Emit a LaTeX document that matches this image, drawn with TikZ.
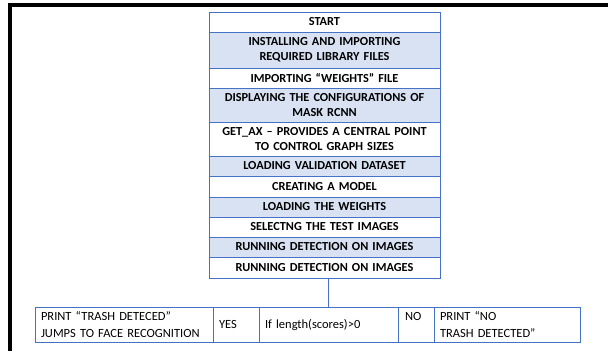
\documentclass[tikz,border=0pt]{standalone}
\usepackage{fontspec}
\setmainfont{Carlito}
\usetikzlibrary{positioning}
\definecolor{tblue}{HTML}{4472C4}
\definecolor{tfill}{HTML}{D9E2F3}

\begin{document}
\begin{tikzpicture}[x=1pt,y=-1pt,
  every node/.style={draw=tblue,line width=0.8pt,inner sep=0pt,outer sep=0pt},
  stepbox/.style={minimum width=231pt,text width=229pt,align=center,font=\bfseries\fontsize{12.3}{15}\selectfont},
  bluebox/.style={stepbox,fill=tfill},
  cellbox/.style={minimum height=35pt,inner xsep=6pt,align=left,font=\fontsize{12.5}{17}\selectfont}]

\fill[white] (0,0) rectangle (608,351);
\useasboundingbox (0,0) rectangle (608,351);
\draw[line width=4pt] (10,351) -- (10,5) -- (608,5);

\node[stepbox,minimum height=20pt,anchor=north] (r1) at (324.5,12) {START};
\node[bluebox,minimum height=36pt,below=0pt of r1] (r2) {INSTALLING AND IMPORTING\\REQUIRED LIBRARY FILES};
\node[stepbox,minimum height=20pt,below=0pt of r2] (r3) {IMPORTING “WEIGHTS” FILE};
\node[bluebox,minimum height=34pt,below=0pt of r3] (r4) {DISPLAYING THE CONFIGURATIONS OF\\MASK RCNN};
\node[stepbox,minimum height=34pt,below=0pt of r4] (r5) {GET\_AX – PROVIDES A CENTRAL POINT\\TO CONTROL GRAPH SIZES};
\node[bluebox,minimum height=20pt,below=0pt of r5] (r6) {LOADING VALIDATION DATASET};
\node[stepbox,minimum height=21pt,below=0pt of r6] (r7) {CREATING A MODEL};
\node[bluebox,minimum height=20pt,below=0pt of r7] (r8) {LOADING THE WEIGHTS};
\node[stepbox,minimum height=20pt,below=0pt of r8] (r9) {SELECTNG THE TEST IMAGES};
\node[bluebox,minimum height=20pt,below=0pt of r9] (r10) {RUNNING DETECTION ON IMAGES};
\node[stepbox,minimum height=21pt,below=0pt of r10] (r11) {RUNNING DETECTION ON IMAGES};

\node[cellbox,text width=166pt,anchor=north west] (c1) at (35,307) {PRINT “TRASH DETECED”\\JUMPS TO FACE RECOGNITION};
\node[cellbox,text width=34pt,right=0pt of c1] (c2) {YES};
\node[cellbox,text width=127pt,right=0pt of c2] (c3) {If length(scores)>0};
\node[cellbox,inner xsep=7pt,text width=22pt,text height=9pt,text depth=17pt,right=0pt of c3] (c4) {NO};
\node[cellbox,text width=134pt,right=0pt of c4] (c5) {PRINT “NO\\TRASH DETECTED”};

\draw[tblue,line width=0.8pt] (r11.south -| c3.north) -- (c3.north);
\end{tikzpicture}
\end{document}
